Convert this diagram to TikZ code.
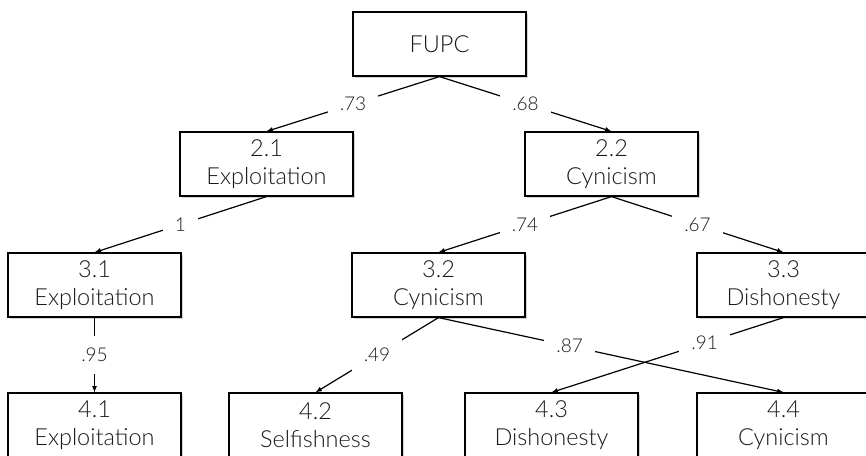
\documentclass[tikz,border=0pt]{standalone}
\usepackage{fontspec}
\setmainfont{Lato}[UprightFont=* Light]
\usetikzlibrary{shadows}

\begin{document}
\begin{tikzpicture}[x=1pt,y=-1pt,
  factor/.style={draw,line width=1.2pt,fill=white,minimum width=173pt,minimum height=64pt,
    align=center,font=\fontsize{23.5}{28}\selectfont,text=black!90,
    drop shadow={shadow xshift=2pt,shadow yshift=-2pt,opacity=0.35}},
  load/.style={fill=white,inner xsep=12pt,inner ysep=12pt,font=\fontsize{19}{22}\selectfont,text=black!90},
  path/.style={->,>=latex,line width=1.2pt}]

  \useasboundingbox (0,0) rectangle (866,455);
  \clip (0,0) rectangle (866,455);

  % Higher-order factor

  \node [factor] (FUPC) at (439.5,44) {FUPC};

  % Second level

  \node [factor] (F21) at (266.5,164) {2.1\\Exploitation};
  \node [factor] (F22) at (611.5,164) {2.2\\Cynicism};

  % Third level

  \node [factor] (F31) at (94.5,285) {3.1\\Exploitation};
  \node [factor] (F32) at (438.5,285) {3.2\\Cynicism};
  \node [factor] (F33) at (783.5,285) {3.3\\Dishonesty};

  % Fourth level

  \node [factor] (F41) at (94.5,425) {4.1\\Exploitation};
  \node [factor] (F42) at (315.5,425) {4.2\\Selfishness};
  \node [factor] (F43) at (551.5,425) {4.3\\Dishonesty};
  \node [factor] (F44) at (783.5,425) {4.4\\Cynicism};

  % Loadings

  \draw [path] (FUPC.south) -- node [load] {.73} (F21.north);
  \draw [path] (FUPC.south) -- node [load] {.68} (F22.north);
  \draw [path] (F21.south) -- node [load] {1} (F31.north);
  \draw [path] (F22.south) -- node [load] {.74} (F32.north);
  \draw [path] (F22.south) -- node [load] {.67} (F33.north);
  \draw [path] (F31.south) -- node [load] {.95} (F41.north);
  \draw [path] (F32.south) -- node [load] {.49} (F42.north);
  \draw [path] (F32.south) -- node [load,pos=0.38] {.87} (F44.north);
  \draw [path] (F33.south) -- node [load,pos=0.34] {.91} (F43.north);
\end{tikzpicture}
\end{document}
